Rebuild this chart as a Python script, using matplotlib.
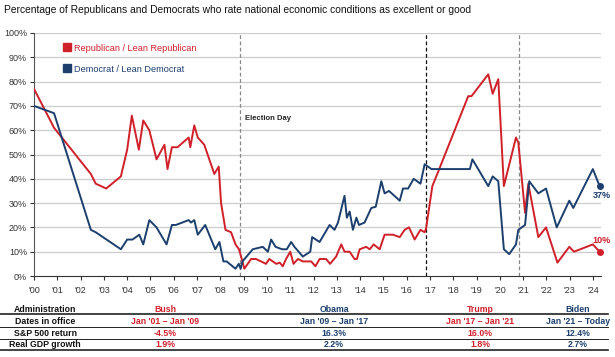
import matplotlib
matplotlib.use("Agg")
import matplotlib.pyplot as plt
from matplotlib.lines import Line2D

plt.rcParams['font.family'] = ['Liberation Sans', 'DejaVu Sans']

# ---------- data ----------
rep_x = [2000.0, 2000.86, 2002.44, 2002.65, 2003.1, 2003.73, 2004.0, 2004.2, 2004.5, 2004.69,
         2004.95, 2005.26, 2005.6, 2005.73, 2005.92, 2006.16, 2006.64, 2006.71, 2006.88, 2007.03,
         2007.31, 2007.74, 2007.93, 2008.03, 2008.22, 2008.46, 2008.65, 2008.8, 2008.89, 2009.03,
         2009.32, 2009.53, 2009.96, 2010.1, 2010.4, 2010.55, 2010.68, 2010.82, 2011.0, 2011.14,
         2011.33, 2011.54, 2011.9, 2012.08, 2012.26, 2012.54, 2012.71, 2012.97, 2013.19, 2013.33,
         2013.55, 2013.76, 2013.86, 2013.98, 2014.26, 2014.41, 2014.58, 2014.84, 2015.05, 2015.41,
         2015.7, 2015.91, 2016.1, 2016.34, 2016.59, 2016.77, 2016.83, 2017.1, 2017.27, 2018.64,
         2018.78, 2019.5, 2019.69, 2019.93, 2020.17, 2020.69, 2020.79, 2021.08, 2021.22, 2021.65,
         2021.98, 2022.47, 2022.98, 2023.18, 2023.99, 2024.28]
rep_y = [77, 61, 42, 38, 36, 41, 52, 66, 52, 64,
         60, 48, 54, 44, 53, 53, 57, 53, 62, 57,
         54, 42, 45, 30, 19, 18, 13, 11, 8, 3,
         7, 7, 5, 7, 5, 5.5, 4, 7, 10, 5,
         7, 6, 6, 4, 7, 7, 5, 8, 13, 10,
         10, 7, 7, 11, 12, 11, 13, 11, 17, 17,
         16, 19, 20, 15, 19, 18, 19.5, 37, 41, 74,
         74, 83, 75, 81, 37, 57, 55, 26, 38, 16,
         20, 5.5, 12, 10, 13, 10]

dem_x = [2000.0, 2000.86, 2002.44, 2002.65, 2003.73, 2004.0, 2004.23, 2004.52, 2004.69, 2004.95,
         2005.26, 2005.69, 2005.92, 2006.09, 2006.64, 2006.74, 2006.88, 2007.03, 2007.35, 2007.78,
         2007.96, 2008.13, 2008.27, 2008.65, 2008.79, 2008.87, 2008.95, 2009.39, 2009.82, 2010.04,
         2010.18, 2010.37, 2010.65, 2010.85, 2011.04, 2011.18, 2011.54, 2011.86, 2011.94, 2012.26,
         2012.69, 2012.9, 2013.05, 2013.33, 2013.43, 2013.55, 2013.69, 2013.84, 2013.95, 2014.19,
         2014.48, 2014.67, 2014.91, 2015.05, 2015.24, 2015.7, 2015.84, 2016.06, 2016.3, 2016.59,
         2016.77, 2017.06, 2018.71, 2018.82, 2019.5, 2019.69, 2019.93, 2020.17, 2020.4, 2020.69,
         2020.79, 2021.08, 2021.26, 2021.65, 2021.98, 2022.44, 2022.98, 2023.15, 2023.99, 2024.28]
dem_y = [70, 67, 19, 18, 11, 15, 15, 17, 13, 23,
         20, 13, 21, 21, 23, 22, 23, 17, 21, 11,
         14, 6, 6, 3, 5, 3, 6, 11, 12, 10,
         15, 12, 11, 11, 14, 12, 8, 10, 16, 14,
         21, 19, 22, 33, 24, 26.5, 19, 24, 21, 22,
         28, 28.5, 39, 34, 35, 31, 36, 36, 40, 38,
         46, 44, 44, 48, 37, 41, 39, 11, 9, 13,
         19, 21, 39, 34, 36, 20, 31, 28, 44, 37]

year_ticks = list(range(2000, 2025))
year_labels = ["'%02d" % (y % 100) for y in year_ticks]
elections = [2008.83, 2016.83, 2020.83]
election_colors = ['#888888', '#111111', '#888888']

admins = ['Bush', 'Obama', 'Trump', 'Biden']
dates = ["Jan '01 \u2013 Jan '09", "Jan '09 \u2013 Jan '17", "Jan '17 \u2013 Jan '21", "Jan '21 \u2013 Today"]
sp500 = ['-4.5%', '16.3%', '16.0%', '12.4%']
gdp = ['1.9%', '2.2%', '1.8%', '2.7%']
row_labels = ['Administration', 'Dates in office', 'S&P 500 return', 'Real GDP growth']

RED = '#d0202a'
BLUE = '#1c3f6e'
admin_colors = [RED, BLUE, RED, BLUE]

W, H = 615, 357
fig = plt.figure(figsize=(W / 100, H / 100), dpi=100)
ax = fig.add_axes([34 / W, 1 - 276 / H, 567 / W, 243 / H])

for yv in range(10, 101, 10):
    ax.axhline(yv, color='#cccccc', lw=0.9, zorder=0)

for xe, c in zip(elections, election_colors):
    ax.axvline(xe, color=c, lw=0.9, ls=(0, (3, 2)), zorder=1)
ax.text(2009.05, 65, 'Election Day', fontsize=5.5, fontweight='bold', color='#222222', va='center')

ax.plot(rep_x, rep_y, color=RED, lw=1.4, zorder=3)
ax.plot(dem_x, dem_y, color=BLUE, lw=1.4, zorder=3)
ax.plot(rep_x[-1], rep_y[-1], 'o', color=RED, ms=4, zorder=4, clip_on=False)
ax.plot(dem_x[-1], dem_y[-1], 'o', color=BLUE, ms=4, zorder=4, clip_on=False)
ax.text(dem_x[-1] + 0.1, dem_y[-1] - 4, '%d%%' % dem_y[-1], color=BLUE, fontsize=6.5,
        fontweight='bold', ha='center', va='center')
ax.text(rep_x[-1] + 0.1, rep_y[-1] + 4.5, '%d%%' % rep_y[-1], color=RED, fontsize=6.5,
        fontweight='bold', ha='center', va='center')

ax.set_xlim(2000, 2024.34)
ax.set_ylim(0, 100)
ax.set_yticks(range(0, 101, 10))
ax.set_yticklabels(['%d%%' % v for v in range(0, 101, 10)])
ax.set_xticks(year_ticks)
ax.set_xticklabels(year_labels)
ax.tick_params(axis='both', labelsize=6.5, colors='#333333', length=3, width=0.8, pad=2)
ax.tick_params(axis='x', pad=4)
for s in ['top', 'right']:
    ax.spines[s].set_visible(False)
ax.spines['left'].set_color('#555555')
ax.spines['bottom'].set_color('#333333')

handles = [Line2D([], [], marker='s', ls='none', color=RED, ms=6),
           Line2D([], [], marker='s', ls='none', color=BLUE, ms=6)]
ax.legend(handles, ['Republican / Lean Republican', 'Democrat / Lean Democrat'],
          loc='upper left', bbox_to_anchor=(0.035, 0.99), frameon=False,
          labelcolor=[RED, BLUE], handletextpad=0.3, labelspacing=1.3, handlelength=1.0,
          prop={'size': 6.6})

fig.text(4 / W, 1 - 10 / H, 'Percentage of Republicans and Democrats who rate national economic '
         'conditions as excellent or good', fontsize=7.4, color='#111111',
         va='center', ha='left')

# ---------- table below chart ----------
col_x = [165, 334, 480, 578]
row_y = [309, 321, 333, 344.5]
rows = [admins, dates, sp500, gdp]
for ry, lab, vals in zip(row_y, row_labels, rows):
    fig.text(45 / W, 1 - ry / H, lab, fontsize=6.3, fontweight='bold', color='#111111',
             ha='center', va='center')
    for cx, v, c in zip(col_x, vals, admin_colors):
        fig.text(cx / W, 1 - ry / H, v, fontsize=6.3, fontweight='bold', color=c,
                 ha='center', va='center')

for ly, lw in [(313.5, 1.2), (327, 0.7), (339, 0.7), (350, 1.2)]:
    fig.add_artist(Line2D([0, 608 / W], [1 - ly / H, 1 - ly / H], color='#222222', lw=lw,
                          transform=fig.transFigure))

fig.savefig('out.png', dpi=100)
